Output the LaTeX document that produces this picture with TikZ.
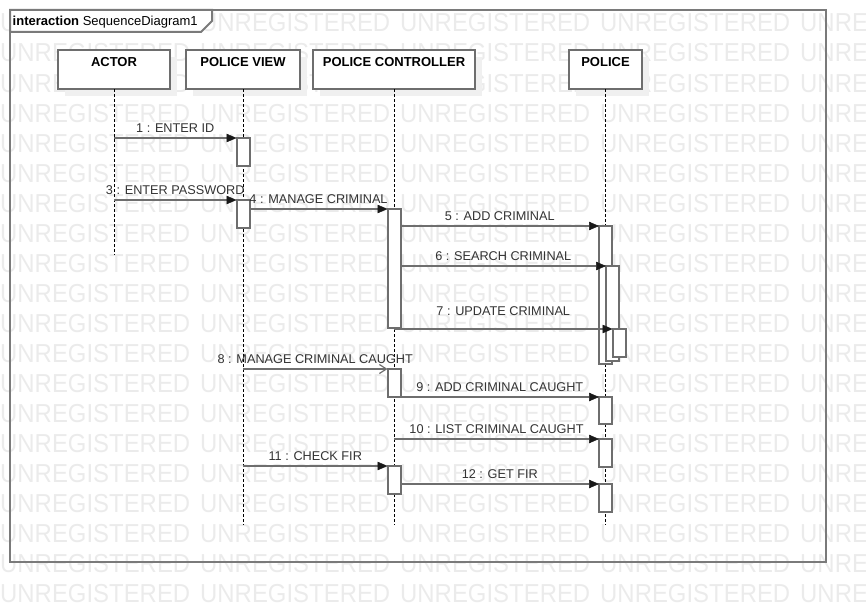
\documentclass[tikz,border=0pt]{standalone}
\usepackage{fontspec}
\setmainfont{Liberation Sans}
\newfontfamily\wmfont[FakeStretch=0.92]{Liberation Sans}
\usetikzlibrary{arrows.meta,calc}
\definecolor{wmgray}{gray}{0.92}
\definecolor{linegray}{HTML}{6E6E6E}
\definecolor{framegray}{HTML}{7A7A7A}
\definecolor{txtgray}{HTML}{333333}
\definecolor{shadowgray}{gray}{0.94}
\tikzset{
  wm/.style={text=wmgray, font=\wmfont\fontsize{26}{26}\selectfont, inner sep=0pt, anchor=base west},
  framebox/.style={draw=framegray, line width=2pt},
  hdr/.style={draw=linegray, line width=2pt, fill=white, anchor=north west, inner xsep=0pt, inner ysep=0pt,
    text height=16.8pt, text depth=22.2pt, minimum height=39pt, outer sep=0pt,
    font=\bfseries\fontsize{13}{13}\selectfont},
  hdrshadow/.style={fill=shadowgray, draw=none},
  life/.style={draw=black, line width=1pt, dash pattern=on 3pt off 2pt},
  act/.style={draw=linegray, line width=2pt, fill=white, anchor=north west, minimum width=13pt, inner sep=0pt, outer sep=0pt},
  msg/.style={draw=linegray, line width=2pt, -{Triangle[length=10pt,width=8.5pt,color=black!90,line width=0.5pt]}},
  amsg/.style={draw=linegray, line width=2pt, -{Straight Barb[length=7pt,width=9pt,line width=1.2pt]}},
  lbl/.style={anchor=base, yshift=6pt, inner sep=0pt, text=txtgray, font=\fontsize{12.7}{12.7}\selectfont},
}
\begin{document}
\begin{tikzpicture}[x=1pt,y=-1pt]
\useasboundingbox (0,0) rectangle (866,602);
% watermark
\begin{scope}
\clip (0,0) rectangle (866,602);
\foreach \r in {0,...,19}{
  \foreach \c in {0,...,4}{
    \node[wm] (wm-\r-\c) at (\c*200, 32+\r*30) {UNREGISTERED};
  }
}
\end{scope}
% frame
\draw[framebox] (10,10) rectangle (826,562);
\draw[framebox, fill=white] (10,10) -- (212,10) -- (212,21) -- (201,32) -- (10,32) -- cycle;
\node[anchor=base west, inner sep=0pt, font=\fontsize{13}{13}\selectfont] (title) at (12.5,25.5)
  {\textbf{interaction} SequenceDiagram1};
% header shadows
\fill[hdrshadow] (65,57) rectangle (177,96);
\fill[hdrshadow] (193,57) rectangle (307,96);
\fill[hdrshadow] (320,57) rectangle (482,96);
\fill[hdrshadow] (576,57) rectangle (649,96);
% headers
\node[hdr, minimum width=112pt] (actor) at (58,50) {ACTOR};
\node[hdr, minimum width=114pt] (view) at (186,50) {POLICE VIEW};
\node[hdr, minimum width=162pt] (ctrl) at (313,50) {POLICE CONTROLLER};
\node[hdr, minimum width=73pt] (police) at (569,50) {POLICE};
% lifelines
\coordinate (actorend) at (114,255);
\coordinate (viewend) at (243,525);
\coordinate (ctrlend) at (394,525);
\coordinate (policeend) at (605.5,525);
\draw[life] (actor.south) -- (actorend);
\draw[life] (view.south) -- (viewend);
\draw[life] (ctrl.south) -- (ctrlend);
\draw[life] (police.south) -- (policeend);
% activations
\node[act, minimum height=28pt] (a1) at (236.5,138) {};
\node[act, minimum height=28pt] (a2) at (236.5,200) {};
\node[act, minimum height=119pt] (c1) at (387.5,209) {};
\node[act, minimum height=28pt] (c2) at (387.5,369) {};
\node[act, minimum height=28pt] (c3) at (387.5,466) {};
\node[act, minimum height=138pt] (p1) at (599,226) {};
\node[act, minimum height=95pt] (p2) at (606,266) {};
\node[act, minimum height=28pt] (p3) at (612.5,329) {};
\node[act, minimum height=27pt] (p4) at (599,397) {};
\node[act, minimum height=28pt] (p5) at (599,439) {};
\node[act, minimum height=28pt] (p6) at (599,484) {};
% messages
\draw[msg] (actor.south |- a1.north west) -- node[lbl] (l1) {1 : ENTER ID} (a1.north west);
\draw[msg] (actor.south |- a2.north west) -- node[lbl] (l3) {3 : ENTER PASSWORD} (a2.north west);
\draw[msg] (a2.north east |- c1.north west) -- node[lbl] (l4) {4 : MANAGE CRIMINAL} (c1.north west);
\draw[msg] (c1.north east |- p1.north west) -- node[lbl] (l5) {5 : ADD CRIMINAL} (p1.north west);
\draw[msg] (c1.north east |- p2.north west) -- node[lbl] (l6) {6 : SEARCH CRIMINAL} (p2.north west);
\draw[msg] (c1.south |- p3.north west) -- node[lbl, yshift=8pt] (l7) {7 : UPDATE CRIMINAL} (p3.north west);
\draw[amsg] (view.south |- c2.north west) -- node[lbl] (l8) {8 : MANAGE CRIMINAL CAUGHT} (c2.north west);
\draw[msg] (c2.north east |- p4.north west) -- node[lbl] (l9) {9 : ADD CRIMINAL CAUGHT} (p4.north west);
\draw[msg] (ctrl.south |- p5.north west) -- node[lbl] (l10) {10 : LIST CRIMINAL CAUGHT} (p5.north west);
\draw[msg] (view.south |- c3.north west) -- node[lbl] (l11) {11 : CHECK FIR} (c3.north west);
\draw[msg] (c3.north east |- p6.north west) -- node[lbl] (l12) {12 : GET FIR} (p6.north west);
\end{tikzpicture}
\end{document}
